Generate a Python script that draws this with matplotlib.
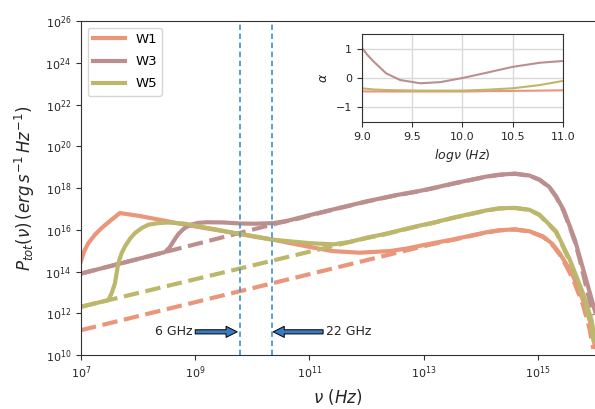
import matplotlib
matplotlib.use('Agg')
import matplotlib.pyplot as plt
import numpy as np

# values, stored as log10(nu [Hz]) and log10(P [erg/s/Hz])
w1_lognu = [7.0, 7.06, 7.13, 7.24, 7.36, 7.52, 7.68, 8.03, 8.3, 8.91, 9.3, 9.78, 10.05, 10.37,
            10.7, 11.0, 11.4, 11.88, 12.0, 12.41, 12.7, 13.17, 13.52, 14.1, 14.33, 14.6, 14.85,
            15.09, 15.25, 15.38, 15.5, 15.62, 15.79, 15.91, 16.0]
w1_logP = [14.5, 15.0, 15.36, 15.75, 16.08, 16.45, 16.8, 16.66, 16.52, 16.2, 16.02, 15.8, 15.66, 15.52,
           15.34, 15.18, 14.98, 14.9, 14.92, 14.98, 15.1, 15.36, 15.54, 15.88, 15.98, 16.02, 15.93,
           15.68, 15.33, 14.88, 14.35, 13.75, 12.63, 11.67, 10.39]
w1_dash_lognu = [7.0, 13.1, 13.52, 14.1, 14.33, 14.6, 14.85, 15.09, 15.25, 15.38, 15.5, 15.62, 15.79, 15.9, 15.97]
w1_dash_logP = [11.19, 15.28, 15.52, 15.87, 15.97, 16.01, 15.92, 15.66, 15.29, 14.82, 14.25, 13.6, 12.4, 11.3, 10.3]

w3_lognu = [7.0, 8.47, 8.55, 8.62, 8.7, 8.8, 8.92, 9.05, 9.2, 9.5, 9.78, 10.05, 10.37, 10.6, 10.83,
            11.0, 11.5, 12.0, 12.5, 12.93, 13.17, 13.52, 14.1, 14.33, 14.6, 14.85, 15.03, 15.2,
            15.32, 15.45, 15.56, 15.65, 15.73, 15.88, 16.0]
w3_logP = [13.9, 14.93, 15.15, 15.45, 15.78, 16.05, 16.24, 16.33, 16.36, 16.35, 16.3, 16.29, 16.32, 16.42, 16.58,
           16.7, 17.03, 17.36, 17.65, 17.86, 18.0, 18.22, 18.55, 18.64, 18.69, 18.6, 18.4, 18.05,
           17.6, 16.95, 16.16, 15.5, 14.72, 13.27, 12.1]
w3_dash_lognu = [7.0, 10.45, 10.83, 11.0, 11.5, 12.0, 12.5, 12.93, 13.17, 13.52, 14.1, 14.33, 14.6, 14.85,
                 15.03, 15.2, 15.32, 15.45, 15.56, 15.65, 15.73, 15.86, 15.97]
w3_dash_logP = [13.9, 16.32, 16.55, 16.68, 17.02, 17.35, 17.64, 17.85, 17.99, 18.21, 18.54, 18.63, 18.68, 18.59,
                18.39, 18.03, 17.57, 16.9, 16.1, 15.4, 14.6, 13.1, 11.9]

w5_lognu = [7.0, 7.478, 7.537, 7.595, 7.624, 7.653, 7.712, 7.77, 7.858, 7.945, 8.062, 8.178, 8.353, 8.528,
            8.82, 9.23, 9.7, 10.05, 10.37, 11.0, 11.42, 11.71, 12.0, 12.29, 12.93, 13.17, 13.52, 14.1,
            14.33, 14.6, 14.85, 15.03, 15.32, 15.56, 15.79, 15.94, 16.0]
w5_logP = [12.31, 12.63, 12.96, 13.44, 13.92, 14.4, 14.88, 15.2, 15.57, 15.84, 16.08, 16.24, 16.32, 16.35,
           16.29, 16.08, 15.84, 15.68, 15.52, 15.36, 15.3, 15.42, 15.62, 15.78, 16.2, 16.34, 16.58, 16.93,
           17.03, 17.05, 16.96, 16.72, 15.92, 14.56, 12.96, 11.67, 10.71]
w5_dash_lognu = [7.0, 11.7, 12.0, 12.29, 12.93, 13.17, 13.52, 14.1, 14.33, 14.6, 14.85, 15.03, 15.32, 15.56,
                 15.79, 15.92, 15.98]
w5_dash_logP = [12.31, 15.41, 15.6, 15.76, 16.19, 16.33, 16.57, 16.92, 17.02, 17.04, 16.95, 16.7, 15.88, 14.48,
                12.8, 11.5, 10.6]

# spectral index alpha for the inset
alpha_lognu = [9.0, 9.05, 9.11, 9.24, 9.38, 9.58, 9.78, 10.0, 10.24, 10.5, 10.77, 11.0]
w1_alpha = [-0.45, -0.46, -0.46, -0.46, -0.46, -0.46, -0.46, -0.46, -0.45, -0.44, -0.43, -0.42]
w3_alpha = [1.03, 0.8, 0.58, 0.16, -0.07, -0.18, -0.14, 0.0, 0.18, 0.38, 0.52, 0.58]
w5_alpha = [-0.35, -0.37, -0.39, -0.41, -0.42, -0.43, -0.43, -0.43, -0.4, -0.35, -0.24, -0.1]

labels = ['W1', 'W3', 'W5']
colors = ['#E9967A', '#BC8F8F', '#BDB76B']
markers_ghz = [6e9, 22e9]

fig = plt.figure(figsize=(5.95, 4.09), dpi=100)
ax = fig.add_axes([0.1361, 0.1320, 0.8639, 0.8166])

solids = [(w1_lognu, w1_logP), (w3_lognu, w3_logP), (w5_lognu, w5_logP)]
dashes = [(w1_dash_lognu, w1_dash_logP), (w3_dash_lognu, w3_dash_logP), (w5_dash_lognu, w5_dash_logP)]
for (sx, sy), (dx, dy), lab, c in zip(solids, dashes, labels, colors):
    ax.plot(10 ** np.array(dx), 10 ** np.array(dy), color=c, lw=3, ls='--')
    ax.plot(10 ** np.array(sx), 10 ** np.array(sy), color=c, lw=3, label=lab)

for f in markers_ghz:
    ax.axvline(f, color='#4a98d3', lw=1.3, ls=(0, (3, 2)))

arrow = dict(facecolor='#3a7bbf', edgecolor='black', lw=0.7, width=3, headwidth=8, headlength=8, shrink=0.0)
ax.annotate('6 GHz', xy=(10 ** 9.735, 10 ** 11.11), xytext=(10 ** 8.295, 10 ** 11.11),
            ha='left', va='center', fontsize=9, color='#262626', arrowprops=arrow)
ax.annotate('22 GHz', xy=(10 ** 10.365, 10 ** 11.11), xytext=(10 ** 11.288, 10 ** 11.11),
            ha='left', va='center', fontsize=9, color='#262626', arrowprops=arrow)

ax.set_xscale('log')
ax.set_yscale('log')
ax.set_xlim(1e7, 1e16)
ax.set_ylim(1e10, 1e26)
ax.set_xticks([1e7, 1e9, 1e11, 1e13, 1e15])
ax.set_yticks([10.0 ** k for k in range(10, 27, 2)])
ax.minorticks_off()
ax.tick_params(labelsize=8, length=3.5, colors='#333333', labelcolor='#262626')
ax.spines['right'].set_visible(False)
for s in ['left', 'bottom', 'top']:
    ax.spines[s].set_color('#333333')
ax.set_xlabel(r'$\nu\ (Hz)$', fontsize=12, color='#262626')
ax.set_ylabel(r'$P_{tot}(\nu)\,(erg\,s^{-1}\,Hz^{-1})$', fontsize=12, color='#262626', labelpad=6)
ax.legend(loc='upper left', fontsize=9.5, handlelength=2.4, labelspacing=0.7)

# inset with spectral index
axin = fig.add_axes([0.6084, 0.7017, 0.3378, 0.2152])
for a, c in zip([w1_alpha, w3_alpha, w5_alpha], colors):
    axin.plot(alpha_lognu, a, color=c, lw=1.5)
axin.set_xlim(9, 11)
axin.set_ylim(-1.5, 1.5)
axin.set_xticks([9.0, 9.5, 10.0, 10.5, 11.0])
axin.set_yticks([-1, 0, 1])
axin.grid(True, color='#d9d9d9', lw=1)
axin.tick_params(labelsize=8, length=3.5, colors='#333333', labelcolor='#262626')
for s in axin.spines.values():
    s.set_color('#333333')
axin.set_xlabel(r'$log\nu\ (Hz)$', fontsize=9, color='#262626')
axin.set_ylabel(r'$\alpha$', fontsize=9, color='#262626')

fig.savefig('out.png', dpi=100)
